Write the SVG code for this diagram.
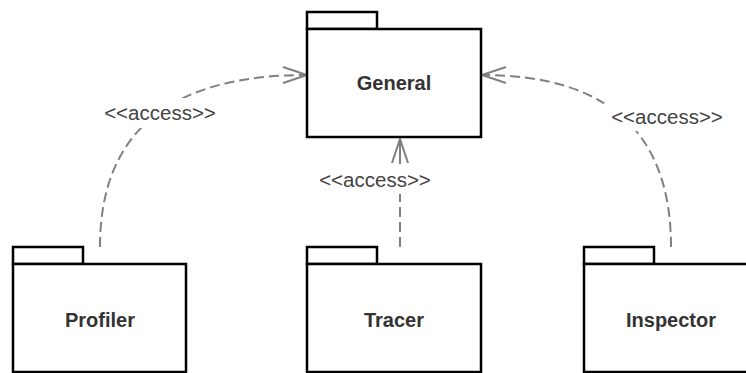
<svg xmlns="http://www.w3.org/2000/svg" width="746" height="373" viewBox="0 0 746 373">
<style>
.pkg{fill:#fff;stroke:#000;stroke-width:2.5}
.name{font-family:"Liberation Sans",Arial,sans-serif;font-size:20px;font-weight:bold;fill:#333;text-anchor:middle}
.lbl{font-family:"Liberation Sans",Arial,sans-serif;font-size:20.5px;fill:#444;text-anchor:middle}
.conn{fill:none;stroke:#808080;stroke-width:2;stroke-dasharray:10 5}
.lblbg{fill:#fff;stroke:none}
</style>
<defs>
<marker id="open" markerUnits="userSpaceOnUse" markerWidth="30" markerHeight="24" refX="0" refY="0" viewBox="-26 -12 30 24" orient="auto" overflow="visible">
<path d="M-24,-8 L0,0 L-24,8" fill="none" stroke="#808080" stroke-width="2" stroke-dasharray="none"/>
</marker>
</defs>
<rect width="746" height="373" fill="#fff"/>
<g id="connectors">
<path class="conn" d="M100,247 Q100,75 307,75" marker-end="url(#open)"/>
<path class="conn" d="M671,247 Q671,75 482,75" marker-end="url(#open)"/>
<path class="conn" d="M400,247 L400,139" marker-end="url(#open)"/>
<line x1="400" y1="139" x2="400" y2="163" stroke="#808080" stroke-width="2"/>
<rect class="lblbg" x="100" y="98" width="120" height="30"/>
<text class="lbl" x="160" y="120">&lt;&lt;access&gt;&gt;</text>
<rect class="lblbg" x="604" y="103" width="126" height="28"/>
<text class="lbl" x="667" y="124">&lt;&lt;access&gt;&gt;</text>
<rect class="lblbg" x="315" y="164" width="120" height="30"/>
<text class="lbl" x="375" y="187">&lt;&lt;access&gt;&gt;</text>
</g>
<g id="general">
<rect class="pkg" x="307" y="12" width="70" height="17"/>
<rect class="pkg" x="307" y="29" width="174" height="108"/>
<text class="name" x="394" y="90">General</text>
</g>
<g id="profiler">
<rect class="pkg" x="13" y="247" width="70" height="17"/>
<rect class="pkg" x="13" y="264" width="173" height="108"/>
<text class="name" x="100" y="327">Profiler</text>
</g>
<g id="tracer">
<rect class="pkg" x="307" y="247" width="70" height="17"/>
<rect class="pkg" x="307" y="264" width="174" height="108"/>
<text class="name" x="394" y="327">Tracer</text>
</g>
<g id="inspector">
<rect class="pkg" x="584" y="247" width="70" height="17"/>
<rect class="pkg" x="584" y="264" width="174" height="108"/>
<text class="name" x="671" y="327">Inspector</text>
</g>
</svg>
